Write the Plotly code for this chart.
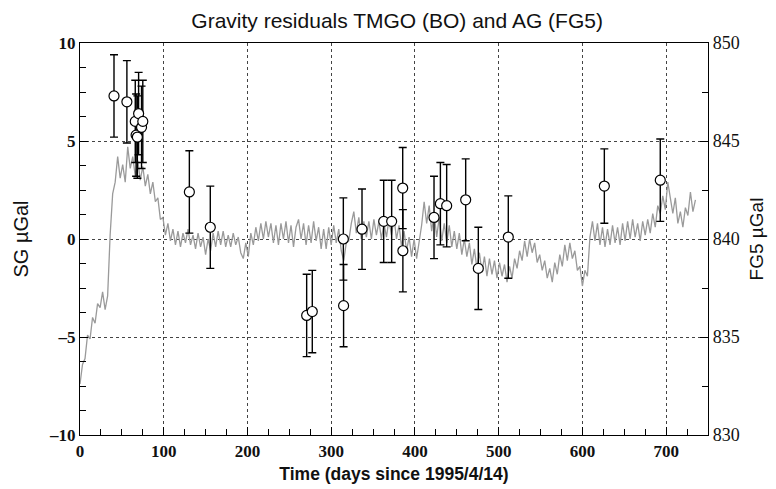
import plotly.graph_objects as go

# ---- SG residual series (µGal), sampled every 3 days starting day 0 ----
sg_step_days = 3
sg_values = [
    -7.4, -6.4, -6.1, -4.9, -5.1, -4.0, -4.3, -3.3, -3.5, -2.7, -3.6, -2.9,
    0.2, 2.3, 2.9,
    4.2, 3.1, 3.8, 2.9, 4.7, 3.6, 4.2, 3.2, 4.0, 3.0, 3.7, 2.7, 3.3, 2.3, 2.9,
    1.9, 2.1, 1.0, 1.1,
    0.2, 0.8, -0.1, 0.5, -0.3, 0.4, -0.4, 0.3, -0.2, 0.5,
    -0.3, 0.2, -0.5, 0.3, -0.4, 0.1, -0.8, 0.0, -0.6, 0.3,
    -0.4, 0.4, -0.3, 0.4, -0.4, 0.2, -0.4, 0.3, -0.3, 0.1,
    -0.7, -1.0, -0.2, -0.9,
    0.3, -0.3, 0.6, -0.1, 0.8, 0.0, 0.9, 0.1, 0.8, -0.2,
    0.7, -0.3, 0.8, 0.0, 0.9, -0.2, 0.7, -0.4, 0.6, 1.0,
    0.0, 0.8, -0.3, 0.7, -0.2, 0.9, -0.1, 0.6, -0.5, 0.5,
    -0.5, 0.6, -0.3, 0.7, -0.2, 0.5,
    -0.6, -1.1, -0.2, -0.1,
    0.8, 1.4, 0.3, 1.1, 0.0, 0.9, 0.1, 0.9, 0.0, 1.0,
    0.2, 0.9, 0.0, 0.8, 0.1, 1.0, 0.2, 1.1, 0.0, 0.7,
    -0.4, 0.4, -0.6, 0.1, -0.9, 0.0, -1.0, -0.1,
    0.7, 1.9, 0.8, 1.7, 0.4, 1.3, 0.1, 1.1, -0.1, 0.8,
    -0.2, 0.7, -0.4, 0.4, -0.5, 0.3, -0.8, 0.0, -0.9, -0.2,
    -1.3, -0.5, -1.5, -0.7, -1.7, -0.9, -1.9, -1.0, -1.8, -1.1,
    -2.0, -1.2, -1.9, -1.3, -2.2, -1.4, -2.0, -1.0, -1.5,
    -0.6, -1.1, -0.1, -0.9, 0.0, -0.7, -0.2, -1.2, -0.8, -1.6,
    -1.1, -2.0, -1.5, -2.2, -1.2, -1.8, -0.8, -1.4, -0.3, -1.1,
    -0.2, -1.0, -0.6, -1.6, -1.4, -2.4, -1.6, -1.9,
    0.1, 0.9, -0.1, 0.8, -0.3, 0.6, -0.4, 0.5, -0.3, 0.7,
    -0.2, 0.6, -0.3, 0.8, -0.1, 0.9, 0.0, 1.0, 0.1, 0.8,
    -0.1, 0.9, 0.2, 1.0, 0.3, 1.3, 0.6, 1.7, 1.3, 2.2,
    1.5, 2.9, 2.1, 1.3, 2.1, 0.8, 1.4, 0.6, 1.6, 1.2,
    2.4, 1.4, 2.0,
]
sg_days = [i * sg_step_days for i in range(len(sg_values))]

# ---- Absolute gravimeter (FG5) measurements, µGal ----
ag_days = [40.6, 56, 66, 67, 68.5, 70, 73.5, 75, 130.6, 155.6, 270.7, 277.4,
           314.5, 314.8, 336.8, 362.7, 372.2, 385.4, 385.6, 422.8, 430.4,
           437.9, 460.6, 475.7, 511.5, 626.2, 693]
ag_values = [847.3, 847.0, 846.0, 845.3, 845.2, 846.4, 845.7, 846.0, 842.4,
             840.6, 836.1, 836.3, 840.0, 836.6, 840.5, 840.9, 840.9, 842.6,
             839.4, 841.1, 841.8, 841.7, 842.0, 838.5, 840.1, 842.7, 843.0]
ag_errors = [2.1, 2.1, 2.1, 2.1, 2.1, 2.1, 2.1, 2.1, 2.1, 2.1, 2.1, 2.1,
             2.1, 2.1, 2.05, 2.1, 2.1, 2.07, 2.1, 2.1, 2.1, 2.1, 2.09, 2.1,
             2.1, 1.9, 2.1]

left_ticks = [-10, -5, 0, 5, 10]
left_ticktext = ["\u201310", "\u20135", "0", "5", "10"]
right_ticks = [830, 835, 840, 845, 850]
x_ticks = [0, 100, 200, 300, 400, 500, 600, 700]

serif = "Liberation Serif, Times New Roman, serif"
sans = "Liberation Sans, Arial, sans-serif"

fig = go.Figure()
fig.add_trace(go.Scatter(
    x=sg_days, y=sg_values, mode="lines",
    line=dict(color="#9a9a9a", width=1.3), yaxis="y", showlegend=False,
    hoverinfo="skip"))
fig.add_trace(go.Scatter(
    x=ag_days, y=ag_values, mode="markers", yaxis="y2", showlegend=False,
    marker=dict(symbol="circle", size=10, color="white",
                line=dict(color="black", width=1.2)),
    error_y=dict(type="data", array=ag_errors, visible=True,
                 color="black", thickness=1.4, width=4)))

fig.update_layout(
    width=776, height=489,
    margin=dict(l=80, r=68, t=43, b=54, autoexpand=False),
    paper_bgcolor="white", plot_bgcolor="white",
    title=dict(text="Gravity residuals TMGO (BO) and AG (FG5)",
               font=dict(family=sans, size=21, color="#111"),
               x=0.505, xanchor="center", xref="paper",
               y=1 - 21 / 489, yanchor="middle", yref="container"),
    xaxis=dict(range=[0, 750], tickvals=x_ticks, ticks="inside", ticklen=8,
               tickcolor="black", showline=True, linecolor="black",
               linewidth=1.3, mirror=True, showgrid=True,
               gridcolor="#444", griddash="dot", gridwidth=1,
               zeroline=False, automargin=False,
               tickfont=dict(family=serif, size=17, color="#111",
                             weight="bold"),
               minor=dict(ticks="inside", ticklen=6, dtick=25,
                          tickcolor="black", showgrid=False),
               title=dict(text="Time (days since 1995/4/14)", standoff=8,
                          font=dict(family=sans, size=17.5, color="#111",
                                    weight="bold"))),
    yaxis=dict(range=[-10, 10], tickvals=left_ticks, ticktext=left_ticktext,
               ticks="inside", ticklen=8, tickcolor="black",
               showline=True, linecolor="black", linewidth=1.3, mirror=True,
               showgrid=True, gridcolor="#444", griddash="dot", gridwidth=1,
               zeroline=False, automargin=False,
               tickfont=dict(family=serif, size=17, color="#111",
                             weight="bold"),
               minor=dict(ticks="inside", ticklen=6, dtick=1.25,
                          tickcolor="black", showgrid=False),
               title=dict(text="SG \u00b5Gal", standoff=14,
                          font=dict(family=sans, size=20, color="#111"))),
    yaxis2=dict(range=[830, 850], tickvals=right_ticks, overlaying="y",
                side="right", ticks="inside", ticklen=8, tickcolor="black",
                showline=True, linecolor="black", linewidth=1.3,
                showgrid=False, zeroline=False, automargin=False,
                tickfont=dict(family=serif, size=18, color="#111"),
                minor=dict(ticks="inside", ticklen=6, dtick=2.5,
                           tickcolor="black", showgrid=False),
                title=dict(text="FG5 \u00b5Gal", standoff=10,
                           font=dict(family=sans, size=19, color="#111"))),
)

fig.write_html("out.html",
               config={"displayModeBar": False},
               post_script="document.body.style.margin='0';"
                           "document.body.style.overflow='hidden';")
